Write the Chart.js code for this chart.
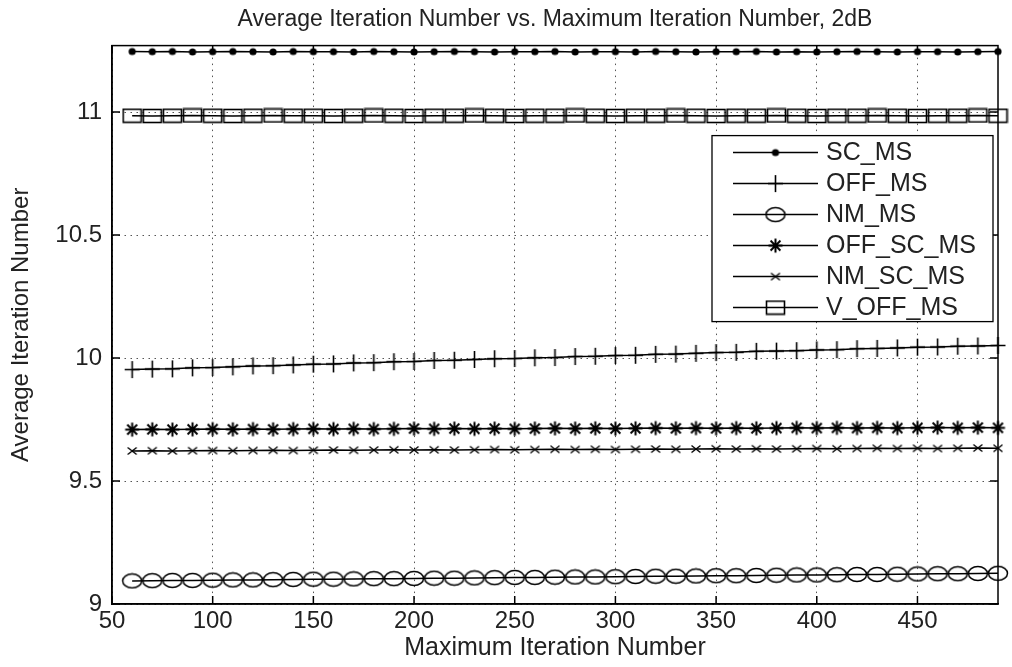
<!DOCTYPE html>
<html>
<head>
<meta charset="utf-8">
<script src="https://cdn.jsdelivr.net/npm/chart.js@4/dist/chart.umd.min.js"></script>
<style>
    html, body { margin: 0; padding: 0; background: #fff; }
</style>
</head>
<body>
<canvas id="iter-chart" width="1012" height="667"></canvas>
<script>

// maximum iteration number (x)
var maxIter = [
    60, 70, 80, 90, 100, 110, 120, 130, 140, 150, 160,
    170, 180, 190, 200, 210, 220, 230, 240, 250, 260, 270,
    280, 290, 300, 310, 320, 330, 340, 350, 360, 370, 380,
    390, 400, 410, 420, 430, 440, 450, 460, 470, 480, 490
];

var seriesNames = ["SC_MS", "OFF_MS", "NM_MS", "OFF_SC_MS", "NM_SC_MS", "V_OFF_MS"];

var scMS = [
    11.246, 11.245, 11.246, 11.244, 11.245, 11.246, 11.245, 11.244, 11.246, 11.245, 11.245,
    11.244, 11.246, 11.245, 11.244, 11.245, 11.246, 11.245, 11.244, 11.245, 11.245, 11.246,
    11.244, 11.245, 11.245, 11.244, 11.246, 11.245, 11.244, 11.245, 11.245, 11.246, 11.244,
    11.245, 11.244, 11.245, 11.246, 11.245, 11.244, 11.245, 11.245, 11.244, 11.245, 11.246
];

var offMS = [
    9.953, 9.955, 9.956, 9.960, 9.961, 9.964, 9.968, 9.969, 9.972, 9.975, 9.976,
    9.980, 9.981, 9.985, 9.986, 9.990, 9.991, 9.994, 9.997, 9.998, 10.001, 10.002,
    10.006, 10.007, 10.010, 10.011, 10.015, 10.016, 10.019, 10.022, 10.023, 10.027, 10.028,
    10.030, 10.033, 10.034, 10.038, 10.039, 10.041, 10.044, 10.045, 10.048, 10.049, 10.051
];

var nmMS = [
    9.094, 9.095, 9.096, 9.096, 9.097, 9.098, 9.098, 9.099, 9.100, 9.101, 9.101,
    9.102, 9.103, 9.103, 9.104, 9.105, 9.105, 9.106, 9.107, 9.108, 9.108, 9.109,
    9.110, 9.110, 9.111, 9.112, 9.113, 9.113, 9.114, 9.115, 9.115, 9.116, 9.117,
    9.118, 9.118, 9.119, 9.120, 9.120, 9.121, 9.122, 9.123, 9.123, 9.124, 9.125
];

var offScMS = [
    9.709, 9.710, 9.709, 9.710, 9.711, 9.710, 9.711, 9.710, 9.711, 9.712, 9.711,
    9.712, 9.711, 9.712, 9.713, 9.712, 9.713, 9.712, 9.713, 9.712, 9.713, 9.714,
    9.713, 9.714, 9.713, 9.714, 9.715, 9.714, 9.715, 9.714, 9.715, 9.714, 9.715,
    9.716, 9.715, 9.716, 9.715, 9.716, 9.715, 9.716, 9.717, 9.716, 9.717, 9.716
];

var nmScMS = [
    9.622, 9.623, 9.622, 9.623, 9.624, 9.623, 9.624, 9.625, 9.624, 9.625, 9.626,
    9.625, 9.626, 9.627, 9.626, 9.627, 9.626, 9.627, 9.628, 9.627, 9.628, 9.629,
    9.628, 9.629, 9.628, 9.629, 9.630, 9.629, 9.630, 9.631, 9.630, 9.631, 9.630,
    9.631, 9.632, 9.631, 9.632, 9.633, 9.632, 9.633, 9.632, 9.633, 9.634, 9.633
];

var vOffMS = [
    10.985, 10.984, 10.985, 10.986, 10.985, 10.984, 10.985, 10.986, 10.985, 10.985, 10.984,
    10.985, 10.986, 10.985, 10.984, 10.985, 10.985, 10.986, 10.985, 10.984, 10.985, 10.985,
    10.986, 10.985, 10.984, 10.985, 10.985, 10.986, 10.985, 10.984, 10.985, 10.985, 10.986,
    10.985, 10.984, 10.985, 10.985, 10.986, 10.985, 10.984, 10.985, 10.985, 10.986, 10.985
];

var fontFamily = "'Liberation Sans', Arial, sans-serif";
var textColor = "#222";


// small canvases used as matlab-like markers
function makeMarker(w, h, draw) {
    let c = document.createElement("canvas");
    c.width = w;
    c.height = h;
    let g = c.getContext("2d");
    g.strokeStyle = "#000";
    g.fillStyle = "#000";
    draw(g, w / 2, h / 2);
    return c;
}

var dotMarker = makeMarker(10, 10, function (g, cx, cy) {
    g.beginPath();
    g.arc(cx, cy, 3.6, 0, Math.PI * 2);
    g.fill();
});

var plusMarker = makeMarker(19, 19, function (g, cx, cy) {
    g.lineWidth = 1.6;
    g.beginPath();
    g.moveTo(cx, 1); g.lineTo(cx, 18);
    g.moveTo(2, cy); g.lineTo(17, cy);
    g.stroke();
});

var circleMarker = makeMarker(22, 17, function (g, cx, cy) {
    g.lineWidth = 1.5;
    g.beginPath();
    g.ellipse(cx, cy, 9.5, 7, 0, 0, Math.PI * 2);
    g.stroke();
});

var starMarker = makeMarker(17, 17, function (g, cx, cy) {
    g.lineWidth = 2;
    g.beginPath();
    for (let k = 0; k < 4; k++) {
        let a = k * Math.PI / 4;
        g.moveTo(cx + Math.cos(a) * 7, cy + Math.sin(a) * 7);
        g.lineTo(cx - Math.cos(a) * 7, cy - Math.sin(a) * 7);
    }
    g.stroke();
    g.beginPath();
    g.arc(cx, cy, 2.5, 0, Math.PI * 2);
    g.fill();
});

var xMarker = makeMarker(12, 12, function (g, cx, cy) {
    g.lineWidth = 1.4;
    g.beginPath();
    g.moveTo(cx - 4.5, cy - 3.5); g.lineTo(cx + 4.5, cy + 3.5);
    g.moveTo(cx - 4.5, cy + 3.5); g.lineTo(cx + 4.5, cy - 3.5);
    g.stroke();
});

var squareMarker = makeMarker(21, 16, function (g, cx, cy) {
    g.lineWidth = 1.6;
    g.strokeRect(1.5, 1.5, 18, 13);
});


function series(label, values, marker) {
    return {
        label: label,
        data: maxIter.map((x, i) => ({ x: x, y: values[i] })),
        borderColor: "#000",
        backgroundColor: "#000",
        borderWidth: 1.5,
        pointStyle: marker,
        pointRadius: 5,
        pointHoverRadius: 5,
        tension: 0,
        clip: false
    };
}

var chartData = {
    datasets: [
        series(seriesNames[0], scMS, dotMarker),
        series(seriesNames[1], offMS, plusMarker),
        series(seriesNames[2], nmMS, circleMarker),
        series(seriesNames[3], offScMS, starMarker),
        series(seriesNames[4], nmScMS, xMarker),
        series(seriesNames[5], vOffMS, squareMarker)
    ]
};


// box around the axes with inward tick marks
var frameAndTicks = {
    id: "frameAndTicks",
    beforeDatasetsDraw(chart) {
        let ctx = chart.ctx;
        let a = chart.chartArea;
        let sx = chart.scales.x;
        let sy = chart.scales.y;
        ctx.save();
        ctx.strokeStyle = "#000";
        ctx.lineWidth = 1.5;
        ctx.setLineDash([]);
        ctx.strokeRect(a.left, a.top, a.right - a.left, a.bottom - a.top);
        ctx.beginPath();
        sx.ticks.forEach(t => {
            let px = sx.getPixelForValue(t.value);
            ctx.moveTo(px, a.bottom); ctx.lineTo(px, a.bottom - 8);
            ctx.moveTo(px, a.top); ctx.lineTo(px, a.top + 8);
        });
        sy.ticks.forEach(t => {
            let py = sy.getPixelForValue(t.value);
            ctx.moveTo(a.left, py); ctx.lineTo(a.left + 8, py);
            ctx.moveTo(a.right, py); ctx.lineTo(a.right - 8, py);
        });
        ctx.stroke();
        ctx.restore();
    }
};

// matlab style legend: line + marker + name in a box
var boxLegend = {
    id: "boxLegend",
    afterDraw(chart) {
        let ctx = chart.ctx;
        let a = chart.chartArea;
        let right = a.right - 5;
        let left = right - 281;
        let top = a.top + 90;
        let rowH = 31;
        let height = rowH * 6;
        ctx.save();
        ctx.fillStyle = "#fff";
        ctx.fillRect(left, top, right - left, height);
        ctx.strokeStyle = "#000";
        ctx.lineWidth = 1.3;
        ctx.strokeRect(left, top, right - left, height);
        ctx.font = "25px " + fontFamily;
        ctx.textBaseline = "middle";
        ctx.textAlign = "left";
        chart.data.datasets.forEach((ds, i) => {
            let y = top + 17 + i * rowH;
            ctx.strokeStyle = "#000";
            ctx.lineWidth = 1.5;
            ctx.beginPath();
            ctx.moveTo(left + 21, y);
            ctx.lineTo(left + 106, y);
            ctx.stroke();
            let m = ds.pointStyle;
            ctx.drawImage(m, left + 63.5 - m.width / 2, y - m.height / 2);
            ctx.fillStyle = textColor;
            ctx.fillText(ds.label, left + 114, y + 1);
        });
        ctx.restore();
    }
};


var chartOptions = {
    responsive: false,
    animation: false,
    devicePixelRatio: 1,
    layout: {
        padding: { left: 0, right: 14, top: 0, bottom: 0 }
    },
    plugins: {
        legend: { display: false },
        tooltip: { enabled: false },
        title: {
            display: true,
            fullSize: false,
            text: "Average Iteration Number vs. Maximum Iteration Number, 2dB",
            color: textColor,
            font: { family: fontFamily, size: 23, weight: "normal" },
            padding: { top: 6, bottom: 12 }
        }
    },
    scales: {
        x: {
            type: "linear",
            min: 50,
            max: 490,
            afterFit: function (s) { s.height = 63; },
            ticks: {
                stepSize: 50,
                includeBounds: false,
                padding: 3,
                maxRotation: 0,
                color: textColor,
                font: { family: fontFamily, size: 24 },
                callback: function (v) { return String(v); }
            },
            grid: { color: "#555", lineWidth: 1, drawTicks: false },
            border: { display: true, color: "#000", width: 1.5, dash: [1.5, 4.5] },
            title: {
                display: true,
                text: "Maximum Iteration Number",
                color: textColor,
                font: { family: fontFamily, size: 25 },
                padding: { top: 0, bottom: 4 }
            }
        },
        y: {
            type: "linear",
            min: 9,
            max: 11.27,
            afterFit: function (s) { s.width = 112; },
            ticks: {
                stepSize: 0.5,
                includeBounds: false,
                padding: 10,
                color: textColor,
                font: { family: fontFamily, size: 24 },
                callback: function (v) { return String(v); }
            },
            grid: { color: "#555", lineWidth: 1, drawTicks: false },
            border: { display: true, color: "#000", width: 1.5, dash: [1.5, 4.5] },
            title: {
                display: true,
                text: "Average Iteration Number",
                color: textColor,
                font: { family: fontFamily, size: 24 },
                padding: { top: 7, bottom: 0 }
            }
        }
    }
};

var ctx = document.getElementById("iter-chart").getContext("2d");
var iterChart = new Chart(ctx, {
    type: "line",
    data: chartData,
    options: chartOptions,
    plugins: [frameAndTicks, boxLegend]
});
</script>
</body>
</html>
